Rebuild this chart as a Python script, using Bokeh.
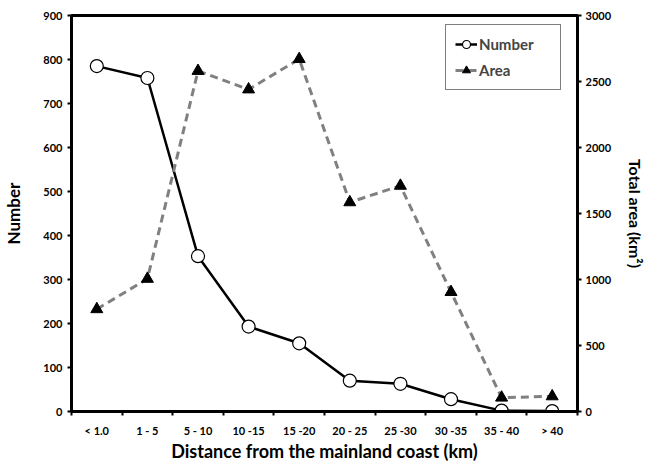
from bokeh.plotting import figure
from bokeh.models import Range1d, LinearAxis, FixedTicker, Legend
from bokeh.embed import file_html
from bokeh.resources import INLINE

categories = ["< 1.0", "1 - 5", "5 - 10", "10 -15", "15 -20", "20 - 25", "25 -30", "30 -35", "35 - 40", "> 40"]
number = [785, 758, 353, 193, 155, 70, 63, 28, 2, 1]
area = [775, 1005, 2580, 2440, 2670, 1585, 1710, 905, 105, 115]
left_ticks = list(range(0, 901, 100))
right_ticks = list(range(0, 3001, 500))

FONT = "Lato"
xs = list(range(len(categories)))

p = figure(width=648, height=464, output_backend="svg", toolbar_location=None,
           x_range=Range1d(-0.5, len(categories) - 0.5), y_range=Range1d(0, 900),
           min_border_left=71, min_border_right=70, min_border_top=15, min_border_bottom=53)
p.extra_y_ranges = {"area": Range1d(0, 3000)}
p.grid.visible = False
p.outline_line_color = "black"
p.outline_line_width = 3
p.background_fill_color = "white"
p.border_fill_color = "white"

# x axis
xa = p.xaxis[0]
xa.ticker = FixedTicker(ticks=xs, minor_ticks=[i - 0.5 for i in range(len(categories) + 1)])
xa.major_label_overrides = {i: c for i, c in enumerate(categories)}
xa.major_tick_out = 0
xa.major_tick_in = 0
xa.minor_tick_out = 4
xa.minor_tick_in = 0
xa.minor_tick_line_width = 2
xa.axis_line_width = 3
xa.axis_label = "Distance from the mainland coast (km)"

ya = p.yaxis[0]
ya.ticker = FixedTicker(ticks=left_ticks)
ya.axis_label = "Number"
ya.minor_tick_line_color = None
ya.major_tick_out = 4
ya.major_tick_in = 0
ya.major_tick_line_width = 2
ya.axis_line_width = 3

ra = LinearAxis(y_range_name="area", ticker=FixedTicker(ticks=right_ticks), axis_label="Total area (km²)")
ra.minor_tick_line_color = None
ra.major_tick_out = 4
ra.major_tick_in = 0
ra.major_tick_line_width = 2
ra.axis_line_width = 3
p.add_layout(ra, "right")

for ax in [xa, ya, ra]:
    ax.major_label_text_font = FONT
    ax.major_label_text_font_style = "bold"
    ax.major_label_text_font_size = "11px"
    ax.major_label_text_color = "black"
    ax.axis_label_text_font = FONT
    ax.axis_label_text_font_style = "bold"
    ax.axis_label_text_font_size = "17px"
    ax.axis_label_text_color = "black"
    ax.axis_line_color = "black"
ra.axis_label_text_font_size = "16px"
xa.axis_label_text_font_size = "18px"
xa.major_label_standoff = 8
xa.axis_label_standoff = 0
ya.axis_label_standoff = 16
ra.major_label_standoff = 4
ra.axis_label_standoff = 12

ln = p.line(xs, number, line_color="black", line_width=2.5)
sn = p.scatter(xs, number, marker="circle", size=13, fill_color="white", line_color="black", line_width=1.2)
la = p.line(xs, area, line_color="#808080", line_width=3, line_dash="8 5", y_range_name="area")
sa = p.scatter(xs, area, marker="triangle", size=12, fill_color="black", line_color="black", y_range_name="area")

legend = Legend(items=[("Number", [ln, sn]), ("Area", [la, sa])], location=(374, 321))
legend.label_text_font = FONT
legend.label_text_font_style = "bold"
legend.label_text_font_size = "15px"
legend.border_line_color = "black"
legend.border_line_width = 1
legend.glyph_width = 22
legend.label_width = 72
legend.padding = 9
legend.spacing = 6
legend.margin = 0
legend.label_standoff = 2
p.add_layout(legend)

open("out.html", "w").write(file_html(p, INLINE))
